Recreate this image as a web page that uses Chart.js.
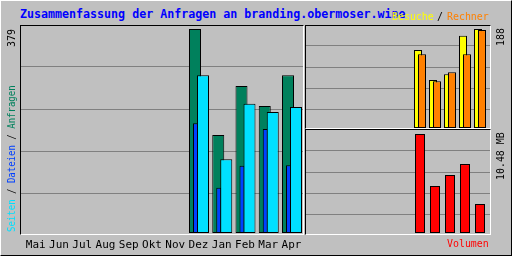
<!DOCTYPE html>
<html><head><meta charset="utf-8">
<script src="https://cdn.jsdelivr.net/npm/chart.js@4.4.1/dist/chart.umd.min.js"></script>
<style>
html,body{margin:0;padding:0;background:#c0c0c0;}
#wrap{position:relative;width:512px;height:256px;background:#c0c0c0;overflow:hidden;}
#outer{position:absolute;left:0;top:0;width:512px;height:256px;box-sizing:border-box;border:1px solid;border-color:#fff #000 #000 #fff;}
canvas{position:absolute;}
.frame{position:absolute;box-sizing:border-box;border:1px solid;border-color:#000 #fff #fff #000;z-index:5;}
.t{position:absolute;white-space:pre;font-family:'DejaVu Sans Mono',monospace;font-size:11px;line-height:12px;transform-origin:0 0;z-index:6;color:#000;}
</style></head><body>
<div id="wrap">
 <div id="outer"></div>
 <canvas id="main" width="284" height="231" style="left:20px;top:25px"></canvas>
 <canvas id="vis" width="186" height="105" style="left:305px;top:25px"></canvas>
 <canvas id="vol" width="186" height="105" style="left:305px;top:130px"></canvas>
 <div class="frame" style="left:20px;top:25px;width:284px;height:210px"></div>
 <div class="frame" style="left:305px;top:25px;width:186px;height:104px"></div>
 <div class="frame" style="left:305px;top:129px;width:186px;height:106px"></div>
 <div class="t" style="left:20px;top:8px;font-weight:bold;font-size:12px;line-height:13px;color:#0000ff;transform:scaleX(0.97)">Zusammenfassung der Anfragen an branding.obermoser.wine</div>
 <div class="t" style="left:392px;top:11px;color:#ffff00;transform:scaleX(0.9)">Besuche</div>
 <div class="t" style="left:437px;top:11px;color:#000;transform:scaleX(0.9)">/</div>
 <div class="t" style="left:447px;top:11px;color:#ff8000;transform:scaleX(0.9)">Rechner</div>
 <div class="t" style="left:6px;top:232px;transform:rotate(-90deg) scaleX(0.82)"><span style="color:#00e0ff">Seiten</span> / <span style="color:#0040ff">Dateien</span> / <span style="color:#00805c">Anfragen</span></div>
 <div class="t" id="maxHitsLbl" style="left:6px;top:47px;transform:rotate(-90deg) scaleX(0.9)"></div>
 <div class="t" id="maxVisLbl" style="left:495px;top:46px;transform:rotate(-90deg) scaleX(0.9)"></div>
 <div class="t" id="maxVolLbl" style="left:495px;top:180px;transform:rotate(-90deg) scaleX(0.9)"></div>
 <div class="t" style="left:447px;top:238px;color:#ff0000;transform:scaleX(0.9)">Volumen</div>
</div>
<script>
const months   = ['Mai','Jun','Jul','Aug','Sep','Okt','Nov','Dez','Jan','Feb','Mar','Apr'];
const hits     = [0,0,0,0,0,0,0,379,182,273,236,293];   // Anfragen
const files    = [0,0,0,0,0,0,0,204,84,125,193,126];    // Dateien
const pages    = [0,0,0,0,0,0,0,293,137,240,225,234];   // Seiten
const visits   = [0,0,0,0,0,0,0,148,91,102,175,188];    // Besuche
const sites    = [0,0,0,0,0,0,0,140,89,106,140,186];    // Rechner
const volumeMB = [0,0,0,0,0,0,0,10.48,4.98,6.14,7.30,3.07]; // Volumen

document.getElementById('maxHitsLbl').textContent = String(Math.max(...hits));
document.getElementById('maxVisLbl').textContent = String(Math.max(...visits, ...sites));
document.getElementById('maxVolLbl').textContent = Math.max(...volumeMB).toFixed(2) + ' MB';

const FONT = 'DejaVu Sans Mono';

function bars(values, color, xAxisID, thickness, order) {
  return {
    data: values.map((v, i) => ({x: i, y: v})),
    backgroundColor: color, borderColor: '#000', borderWidth: 1,
    borderSkipped: false, inflateAmount: 0, grouped: false,
    barThickness: thickness, maxBarThickness: thickness,
    xAxisID, yAxisID: 'y', order
  };
}
function hiddenX(min, max) {
  return {type: 'linear', display: false, offset: false, min, max,
    grid: {offset: false}, ticks: {stepSize: 1, includeBounds: false}};
}
function gridY() {
  return {
    type: 'linear', position: 'left', min: 0, max: 5,
    ticks: {display: false, stepSize: 1},
    grid: {drawTicks: false, lineWidth: 1,
      color: c => (c.tick && (c.tick.value === 0 || c.tick.value === 5)) ? 'rgba(0,0,0,0)' : '#808080'},
    border: {display: false},
    afterFit: s => { s.width = 0; }
  };
}
const common = {
  responsive: false, animation: false, devicePixelRatio: 1,
  layout: {padding: 0},
  plugins: {legend: {display: false}, tooltip: {enabled: false}}
};

// main chart: slot spacing 23.25px, first green centre at 12.25px
const sp = 23.25, c0 = 12.25, W = 284;
const mainMin = -c0 / sp, mainMax = (W - c0) / sp;
const pxPerHit = 204 / Math.max(...hits);
new Chart(document.getElementById('main'), {
  type: 'bar',
  data: {datasets: [
    bars(hits,  '#00805c', 'xH', 12, 3),
    bars(files, '#0040ff', 'xF', 5, 2),
    bars(pages, '#00e0ff', 'xP', 12, 1)
  ]},
  options: Object.assign({}, common, {
    scales: {
      xH: {type: 'linear', position: 'bottom', offset: false, min: mainMin, max: mainMax,
        grid: {display: false, drawTicks: false, offset: false}, border: {display: false},
        ticks: {stepSize: 1, autoSkip: false, maxRotation: 0, includeBounds: false,
          padding: 4, labelOffset: 3.5, color: '#000', font: {family: FONT, size: 11},
          callback: v => months[v] ?? ''},
        afterFit: s => { s.height = 21; s.paddingLeft = 0; s.paddingRight = 0; }},
      xF: hiddenX(mainMin - 0.5 / sp, mainMax - 0.5 / sp),
      xP: hiddenX(mainMin - 8 / sp, mainMax - 8 / sp),
      y: {type: 'linear', display: false, min: -2 / pxPerHit, max: 208 / pxPerHit},
      g: gridY()
    }
  })
});

// visits / sites
const pxPerVis = 99 / Math.max(...visits, ...sites);
new Chart(document.getElementById('vis'), {
  type: 'bar',
  data: {datasets: [
    bars(visits, '#ffff00', 'xV', 8, 2),
    bars(sites,  '#ff8000', 'xS', 8, 1)
  ]},
  options: Object.assign({}, common, {
    scales: {
      xV: hiddenX(-8 / 15, (186 - 8) / 15),
      xS: hiddenX(-12 / 15, (186 - 12) / 15),
      y: {type: 'linear', display: false, min: -2 / pxPerVis, max: 103 / pxPerVis},
      g: gridY()
    }
  })
});

// volume
const pxPerMB = 99 / Math.max(...volumeMB);
new Chart(document.getElementById('vol'), {
  type: 'bar',
  data: {datasets: [ bars(volumeMB, '#ff0000', 'xK', 10, 1) ]},
  options: Object.assign({}, common, {
    scales: {
      xK: hiddenX(-10 / 15, (186 - 10) / 15),
      y: {type: 'linear', display: false, min: -2 / pxPerMB, max: 103 / pxPerMB},
      g: gridY()
    }
  })
});
</script>
</body></html>
